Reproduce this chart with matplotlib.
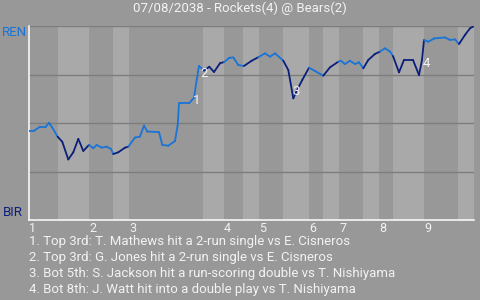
import matplotlib
matplotlib.use("Agg")
import matplotlib.pyplot as plt

plt.rcParams['font.family'] = ['Roboto', 'DejaVu Sans']

title = "07/08/2038 - Rockets(4) @ Bears(2)"
away, home = "REN", "BIR"

# half-inning start positions (plate-appearance axis), last value = end of game
half_starts = [0, 29, 60, 84, 100, 174, 195, 214, 230, 254, 280, 294, 310, 334,
               350, 364, 395, 429, 445]
innings = ["1", "2", "3", "4", "5", "6", "7", "8", "9"]

# win expectancy for REN
pa = [0, 5, 11, 16.7, 20, 22.7, 28.7, 33.3, 39.3, 44.3, 49.3, 54.3, 60, 64.3,
      67.7, 72.7, 77.7, 82, 84.3, 89.3, 96, 99.3, 106, 111, 115, 118.3, 130,
      133.3, 139.3, 146, 148.7, 150, 160, 165, 167.7, 170, 175, 180.3, 185,
      191, 195, 200.3, 204.3, 209.3, 215, 222.7, 229.3, 236, 241, 246, 254.3,
      259.3, 264.3, 267.7, 273.3, 280, 286, 294.3, 301, 309.3, 311.7, 316, 321,
      326, 330, 334.3, 339.3, 346, 351, 356, 361, 364, 370, 375, 384, 390, 393,
      395, 399.3, 405.3, 416, 421, 426, 430, 436, 441, 445]
wp = [0.460, 0.460, 0.481, 0.481, 0.501, 0.481, 0.429, 0.403, 0.312, 0.349,
      0.418, 0.356, 0.387, 0.370, 0.387, 0.373, 0.378, 0.366, 0.340, 0.349,
      0.373, 0.378, 0.425, 0.430, 0.487, 0.456, 0.453, 0.387, 0.383, 0.407,
      0.490, 0.601, 0.601, 0.630, 0.722, 0.794, 0.770, 0.790, 0.763, 0.808,
      0.814, 0.836, 0.838, 0.799, 0.794, 0.821, 0.839, 0.859, 0.842, 0.859,
      0.821, 0.773, 0.627, 0.666, 0.722, 0.785, 0.768, 0.744, 0.787, 0.816,
      0.821, 0.804, 0.821, 0.804, 0.813, 0.782, 0.825, 0.856, 0.868, 0.885,
      0.868, 0.845, 0.761, 0.825, 0.825, 0.747, 0.825, 0.928, 0.919, 0.936,
      0.941, 0.928, 0.931, 0.907, 0.954, 0.988, 1.0]

# key plays: index into pa/wp and caption
key_idx = [33, 35, 52, 76]
key_offsets = [(3, -3), (5, -8), (3, 7), (4, -4)]
key_text = [
    "1. Top 3rd: T. Mathews hit a 2-run single vs E. Cisneros",
    "2. Top 3rd: G. Jones hit a 2-run single vs E. Cisneros",
    "3. Bot 5th: S. Jackson hit a run-scoring double vs T. Nishiyama",
    "4. Bot 8th: J. Watt hit into a double play vs T. Nishiyama",
]

bg = "#989898"
band_light = "#a9a9a9"
c_away = "#1a74d8"
c_home = "#0b1f7a"
txt = "#f2f2f2"

fig = plt.figure(figsize=(4.8, 3.0), dpi=100, facecolor=bg)
ax = fig.add_axes([29 / 480, 80 / 300, 445 / 480, 194 / 300])
ax.set_facecolor(bg)
ax.set_xlim(half_starts[0], half_starts[-1])
ax.set_ylim(0, 1)

# shade bottom halves
for i in range(1, len(half_starts) - 1, 2):
    ax.axvspan(half_starts[i], half_starts[i + 1], color=band_light, lw=0, zorder=0)

for g in [0.25, 0.5, 0.75, 1.0]:
    ax.axhline(g, color="#7d7d7d", lw=1.0, zorder=1)


def half_of(x):
    for i in range(len(half_starts) - 1):
        if half_starts[i] <= x < half_starts[i + 1]:
            return i
    return len(half_starts) - 2


# draw the line, coloured by batting team
for i in range(len(pa) - 1):
    mid = (pa[i] + pa[i + 1]) / 2
    col = c_away if half_of(mid) % 2 == 0 else c_home
    ax.plot(pa[i:i + 2], wp[i:i + 2], color=col, lw=1.3,
            solid_capstyle="round", solid_joinstyle="round", zorder=3)

for n, (k, off) in enumerate(zip(key_idx, key_offsets)):
    ax.annotate(str(n + 1), (pa[k], wp[k]), xytext=off, textcoords="offset pixels",
                ha="center", va="center", color=txt, fontsize=9.5, zorder=4)

for s in ["top", "right"]:
    ax.spines[s].set_visible(False)
ax.spines["left"].set_color("white")
ax.spines["bottom"].set_color("white")
ax.spines["left"].set_linewidth(1.1)
ax.spines["bottom"].set_linewidth(1.1)
ax.set_xticks([])
ax.set_yticks([])

for lab, x in zip(innings, half_starts[0::2]):
    ax.text(x, -0.012, lab, ha="left", va="top", color=txt, fontsize=9,
            transform=ax.get_xaxis_transform())

fig.text(2 / 480, 1 - 33 / 300, away, color=c_away, fontsize=9.5, va="center", ha="left")
fig.text(3 / 480, 1 - 213 / 300, home, color=c_home, fontsize=9.5, va="center", ha="left")
fig.text(0.5, 1 - 8 / 300, title, color=txt, fontsize=9.5, ha="center", va="center")

for j, t in enumerate(key_text):
    fig.text(29 / 480, 1 - (241.5 + 16 * j) / 300, t, color=txt, fontsize=9.5,
             ha="left", va="center")

fig.savefig("out.png", dpi=100, facecolor=bg)
